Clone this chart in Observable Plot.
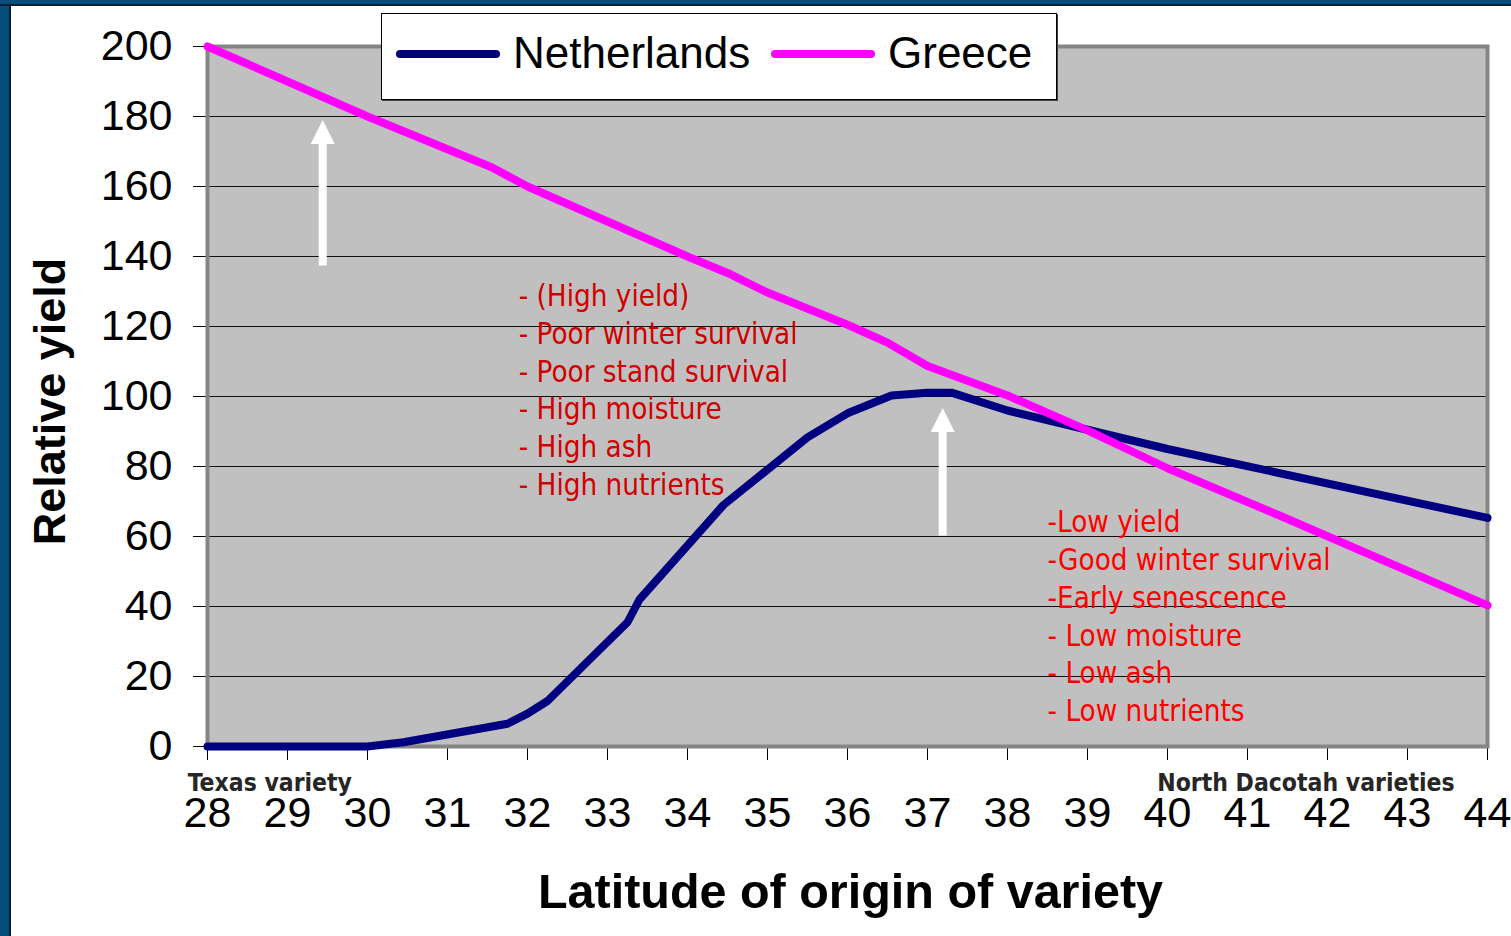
<!DOCTYPE html>
<html>
<head>
<meta charset="utf-8">
<script src="https://cdn.jsdelivr.net/npm/d3@7"></script>
<script src="https://cdn.jsdelivr.net/npm/@observablehq/plot@0.6"></script>
<style>
html,body{margin:0;padding:0;background:#fff;width:1511px;height:936px;overflow:hidden;}
#chart{position:absolute;left:0;top:0;}
.frameL{position:absolute;left:0;top:0;width:9px;height:936px;background:#054e7c;border-right:2px solid #0d1f2e;}
.frameT{position:absolute;left:0;top:0;width:1511px;height:4px;background:#054e7c;border-bottom:2px solid #0d1f2e;}
#legend{position:absolute;left:381px;top:13px;width:674px;height:85px;border:1px solid #000;background:#fff;box-shadow:1px 1px 0 #444;}
.sw{position:absolute;top:36px;width:104px;height:8px;border-radius:4px;}
.lt{position:absolute;top:17px;font-family:"Liberation Sans",Arial,sans-serif;font-size:44px;line-height:44px;color:#000;white-space:nowrap;}
</style>
</head>
<body>
<div id="chart"></div>
<div class="frameL"></div>
<div class="frameT"></div>
<div id="legend"></div>
<script>
// ---- data ----
const seriesNames = ["Netherlands", "Greece"];
const seriesColors = ["#000080", "#ff00ff"];

const nlLat   = [28, 30, 30.45, 31.75, 32, 32.25, 33.25, 33.4, 34.45, 35.5, 36, 36.55, 37, 37.3, 38, 39, 40, 44];
const nlYield = [0, 0, 1.2, 6.5, 9.4, 13, 35.5, 42, 69, 88.3, 95.2, 100.3, 101.1, 101.1, 96, 90.5, 85, 65.3];

const grLat   = [28, 29.45, 30, 31.55, 32, 33, 34, 34.5, 35, 36, 36.5, 37, 38, 39, 40, 41.45, 44];
const grYield = [200, 185.5, 180, 165.5, 160, 150, 140, 135.3, 129.7, 120.5, 115.4, 108.7, 100.3, 90.3, 79.5, 65.5, 40.3];

const latTicks   = [28, 29, 30, 31, 32, 33, 34, 35, 36, 37, 38, 39, 40, 41, 42, 43, 44];
const yieldTicks = [0, 20, 40, 60, 80, 100, 120, 140, 160, 180, 200];
const gridValues = [20, 40, 60, 80, 100, 120, 140, 160, 180];

const xTitle = "Latitude of origin of variety";
const yTitle = "Relative yield";

const varietyLabels = ["Texas variety", "North Dacotah varieties"];
const varietyLat    = [28.78, 41.73];

const leftNotes  = ["- (High yield)", "- Poor winter survival", "- Poor stand survival", "- High moisture", "- High ash", "- High nutrients"];
const rightNotes = ["-Low yield", "-Good winter survival", "-Early senescence", "- Low moisture", "- Low ash", "- Low nutrients"];
const noteLat    = [31.89, 38.5];
const noteYield  = [102.3, 37.7];
const noteColors = ["#d00000", "#ff0000"];

// arrows: latitude, tail, head base, tip
const arrowLat  = [29.44, 37.19];
const arrowFrom = [137.4, 60.3];
const arrowBase = [173, 90];
const arrowTo   = [179, 96.7];

// ---- tables ----
const nl = nlLat.map((x, i) => ({lat: x, yield: nlYield[i]}));
const gr = grLat.map((x, i) => ({lat: x, yield: grYield[i]}));
const arrows = arrowLat.map((x, i) => ({lat: x, from: arrowFrom[i], base: arrowBase[i], to: arrowTo[i]}));
const varieties = varietyLabels.map((t, i) => ({text: t, lat: varietyLat[i]}));
const notes = [leftNotes, rightNotes].map((lines, i) => ({text: lines.join("\n"), lat: noteLat[i], yield: noteYield[i], color: noteColors[i]}));

const headSymbol = {
  draw(context) {
    context.moveTo(0, 0);
    context.lineTo(12, 24);
    context.lineTo(-12, 24);
    context.closePath();
  }
};

const chart = Plot.plot({
  width: 1511,
  height: 936,
  marginLeft: 207,
  marginRight: 24,
  marginTop: 46,
  marginBottom: 190,
  style: {fontFamily: '"Liberation Sans", Arial, sans-serif', fontSize: "43px", color: "#000", background: "transparent", overflow: "visible"},
  x: {domain: [28, 44], ticks: latTicks, tickSize: 14, tickPadding: 36, tickFormat: d => String(d), label: null},
  y: {domain: [0, 200], ticks: yieldTicks, tickSize: 14, tickPadding: 21, tickFormat: d => String(d), label: null},
  marks: [
    Plot.frame({fill: "#c0c0c0"}),
    Plot.ruleY(gridValues, {stroke: "#111", strokeWidth: 1.2}),
    Plot.frame({stroke: "#858585", strokeWidth: 4}),
    Plot.line(nl, {x: "lat", y: "yield", stroke: seriesColors[0], strokeWidth: 8, strokeLinejoin: "round", strokeLinecap: "round"}),
    Plot.line(gr, {x: "lat", y: "yield", stroke: seriesColors[1], strokeWidth: 8, strokeLinejoin: "round", strokeLinecap: "round"}),
    Plot.link(arrows, {x1: "lat", x2: "lat", y1: "from", y2: "base", stroke: "#fff", strokeWidth: 8}),
    Plot.dot(arrows, {x: "lat", y: "to", symbol: headSymbol, r: 8, fill: "#fff", stroke: null}),
    Plot.text(notes, {x: "lat", y: "yield", text: "text", fill: "color", textAnchor: "start", lineAnchor: "middle",
      fontFamily: '"DejaVu Sans Condensed", sans-serif', fontSize: 29.3, lineHeight: 37.8 / 29.3}),
    Plot.text(varieties, {x: "lat", text: "text", frameAnchor: "bottom", dy: 37, lineAnchor: "middle", textAnchor: "middle",
      fontFamily: '"DejaVu Sans Condensed", "DejaVu Sans", sans-serif', fontWeight: "bold", fontSize: 24.5, fill: "#262626"}),
    Plot.text([xTitle], {text: d => d, frameAnchor: "bottom", dx: 3, dy: 145.5, lineAnchor: "middle", textAnchor: "middle",
      fontSize: 48.5, fontWeight: "bold", fill: "#000"}),
    Plot.text([yTitle], {text: d => d, frameAnchor: "left", dx: -157, dy: 5, rotate: -90, lineAnchor: "middle", textAnchor: "middle",
      fontSize: 45, fontWeight: "bold", fill: "#000"})
  ]
});

document.getElementById("chart").appendChild(chart);

// legend
const legend = document.getElementById("legend");
const swLeft = [14, 389];
const txLeft = [131, 506];
seriesNames.forEach((name, i) => {
  const sw = document.createElement("div");
  sw.className = "sw";
  sw.style.left = swLeft[i] + "px";
  sw.style.background = seriesColors[i];
  legend.appendChild(sw);
  const t = document.createElement("div");
  t.className = "lt";
  t.style.left = txLeft[i] + "px";
  t.textContent = name;
  legend.appendChild(t);
});
</script>
</body>
</html>
